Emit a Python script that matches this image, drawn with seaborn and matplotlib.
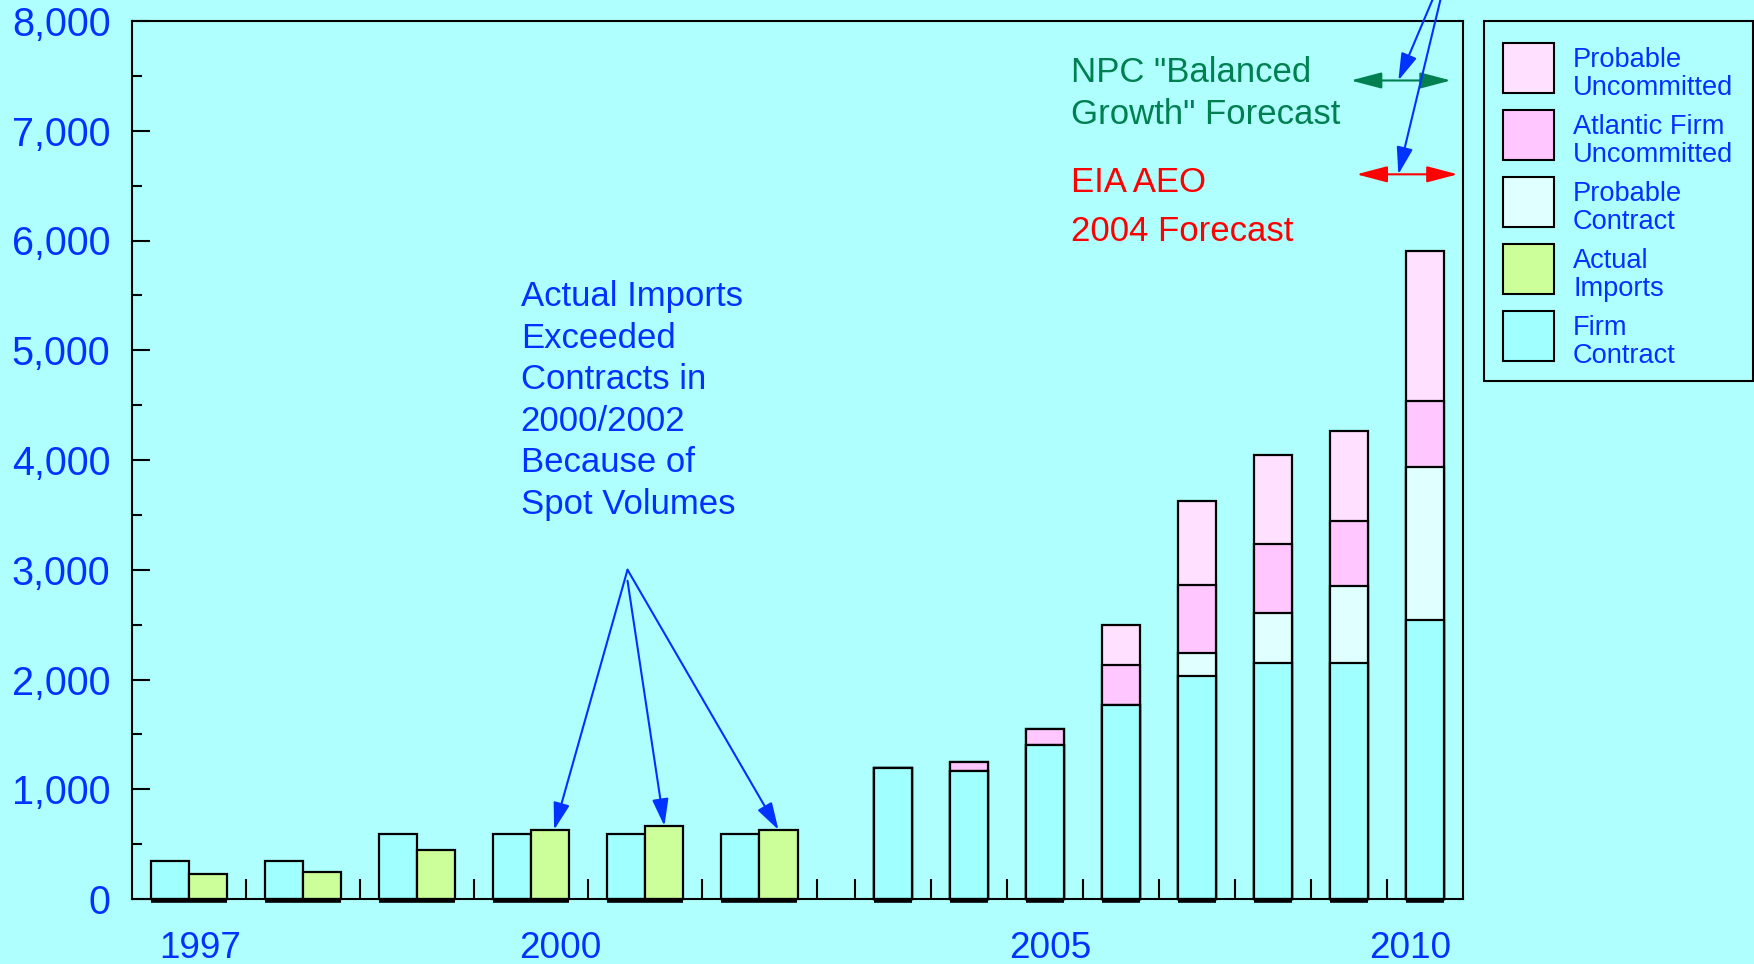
import numpy as np
import pandas as pd
import matplotlib
matplotlib.use("Agg")
import matplotlib.pyplot as plt
import matplotlib.transforms as mtransforms
from matplotlib.patches import Rectangle
from matplotlib.ticker import FixedLocator, MultipleLocator, FuncFormatter
import seaborn as sns

# ---------------- data ----------------
hist_years = [1997, 1998, 1999, 2000, 2001, 2002]
hist_firm_contract = [350, 350, 590, 590, 590, 590]
hist_actual_imports = [225, 245, 445, 630, 665, 630]

fcst_years = [2003, 2004, 2005, 2006, 2007, 2008, 2009, 2010]
fcst_firm_contract = [1190, 1170, 1400, 1770, 2030, 2150, 2150, 2540]
fcst_probable_contract = [0, 0, 0, 0, 215, 460, 700, 1400]
fcst_atlantic_firm_uncommitted = [0, 75, 150, 365, 620, 625, 595, 600]
fcst_probable_uncommitted = [0, 0, 0, 365, 765, 815, 820, 1365]

year_labels = ["1997", "2000", "2005", "2010"]

series_labels = ["Probable\nUncommitted", "Atlantic Firm\nUncommitted",
                 "Probable\nContract", "Actual\nImports", "Firm\nContract"]

# ---------------- style ----------------
BG = "#AFFFFF"
C_FIRM = "#A0FFFF"
C_PROB_CONTRACT = "#E0FFFF"
C_ATLANTIC = "#FFC6FF"
C_PROB_UNCOMMITTED = "#FFE0FF"
C_ACTUAL = "#CCFF99"
BLUE = "#0033FF"
GREEN = "#008050"
RED = "#FF0000"
series_colors = [C_PROB_UNCOMMITTED, C_ATLANTIC, C_PROB_CONTRACT, C_ACTUAL, C_FIRM]

sns.set_theme(style="ticks")
plt.rcParams["font.family"] = ["Liberation Sans", "DejaVu Sans"]
plt.rcParams["axes.linewidth"] = 1.5

W, H = 1754, 964
fig = plt.figure(figsize=(W / 100, H / 100), dpi=100, facecolor=BG)
ax = fig.add_axes([132 / W, 65 / H, (1463 - 132) / W, (899 - 21) / H])
ax.set_facecolor(BG)

# Slot layout: historical years take three slots (contract, imports, gap),
# forecast years take two slots (bar, gap).
hist_firm_pos = [3 * i + 1 for i in range(len(hist_years))]
hist_actual_pos = [3 * i + 2 for i in range(len(hist_years))]
fcst_pos = [20 + 2 * j for j in range(len(fcst_years))]

def bar_layer(pos, values, color):
    df = pd.DataFrame({"pos": np.asarray(pos, dtype=float),
                       "value": np.asarray(values, dtype=float)})
    unit = np.min(np.diff(np.unique(df["pos"])))
    sns.barplot(data=df, x="pos", y="value", orient="x", native_scale=True,
                width=1.0 / unit, color=color, saturation=1, errorbar=None,
                edgecolor="black", linewidth=1.6, clip_on=False, ax=ax)

firm = np.array(fcst_firm_contract)
cum_pc = firm + np.array(fcst_probable_contract)
cum_atl = cum_pc + np.array(fcst_atlantic_firm_uncommitted)
cum_total = cum_atl + np.array(fcst_probable_uncommitted)

# Stacked forecast bars, drawn from the tallest cumulative layer down
bar_layer(fcst_pos, cum_total, C_PROB_UNCOMMITTED)
bar_layer(fcst_pos, cum_atl, C_ATLANTIC)
bar_layer(fcst_pos, cum_pc, C_PROB_CONTRACT)
bar_layer(hist_firm_pos + fcst_pos, hist_firm_contract + list(firm), C_FIRM)
bar_layer(hist_actual_pos, hist_actual_imports, C_ACTUAL)

# heavier base line under every bar, sitting just below the axis
all_pos = np.array(sorted(hist_firm_pos + hist_actual_pos + fcst_pos), dtype=float)
base_shift = mtransforms.offset_copy(ax.transData, fig=fig, x=0, y=-1.3, units="points")
ax.hlines(np.zeros_like(all_pos), all_pos - 0.5, all_pos + 0.5, colors="black",
          linewidth=2.6, transform=base_shift, clip_on=False, zorder=4)

ax.set_xlim(0, 35)
ax.set_ylim(0, 8000)
ax.set_xlabel("")
ax.set_ylabel("")
for sp in ax.spines.values():
    sp.set_visible(True)
    sp.set_color("black")
    sp.set_linewidth(1.5)

# x ticks: tall separators between year slots, short marks under each bar
sep_ticks = [3, 6, 9, 12, 15, 18, 19] + [p + 1 for p in fcst_pos[:-1]]
ax.xaxis.set_major_locator(FixedLocator(sep_ticks))
ax.xaxis.set_minor_locator(FixedLocator(list(all_pos)))
ax.tick_params(axis="x", which="major", direction="in", length=14.4, width=1.5,
               color="black", labelbottom=False, bottom=True, top=False)
ax.tick_params(axis="x", which="minor", direction="in", length=7.2, width=1.5,
               color="black", bottom=True, top=False)

ax.yaxis.set_major_locator(MultipleLocator(1000))
ax.yaxis.set_minor_locator(MultipleLocator(500))
ax.yaxis.set_major_formatter(FuncFormatter(lambda v, p: f"{int(v):,}"))
ax.tick_params(axis="y", which="major", direction="in", length=13, width=1.5,
               color="black", labelsize=28.5, labelcolor=BLUE, pad=15.5,
               left=True, right=False)
ax.tick_params(axis="y", which="minor", direction="in", length=7.2, width=1.5,
               color="black", left=True, right=False)

# year labels under the axis
label_pos = [1.8, 11.25, 24.15, 33.6]
for lab, xp in zip(year_labels, label_pos):
    ax.annotate(lab, xy=(xp, 0), xycoords=("data", "axes fraction"),
                xytext=(0, -59), textcoords="offset pixels",
                ha="center", va="baseline", fontsize=26.6, color=BLUE,
                annotation_clip=False)

# note on the historical imports (anchored on the baseline of its last line)
ax.text(10.22, 3508, "Actual Imports\nExceeded\nContracts in\n2000/2002\nBecause of\nSpot Volumes",
        ha="left", va="baseline", fontsize=25, color=BLUE, linespacing=1.33)

arrow_kw = dict(arrowstyle="-|>,head_length=1.66,head_width=0.5", color=BLUE,
                lw=1.5, shrinkA=0, shrinkB=0, mutation_scale=10)
note_targets = [(11.1, 3000), (14.0, 2900), (17.0, 3000)]
for (tx, sy), yr_idx in zip(note_targets, [3, 4, 5]):
    ax.annotate("", xy=(tx, hist_actual_imports[yr_idx]), xytext=(13.03, sy),
                arrowprops=arrow_kw)

# forecast reference markers
ax.text(24.69, 7062, "NPC \"Balanced\nGrowth\" Forecast", ha="left", va="baseline",
        fontsize=25, color=GREEN, linespacing=1.36)
ax.text(24.69, 5995, "EIA AEO\n2004 Forecast", ha="left", va="baseline",
        fontsize=25, color=RED, linespacing=1.6)

dbl = "<|-|>,head_length=1.9,head_width=0.5"
ax.annotate("", xy=(32.05, 7458), xytext=(34.68, 7458),
            arrowprops=dict(arrowstyle=dbl, color=GREEN, lw=1.5, shrinkA=0,
                            shrinkB=0, mutation_scale=10), annotation_clip=False)
ax.annotate("", xy=(32.2, 6603), xytext=(34.86, 6603),
            arrowprops=dict(arrowstyle=dbl, color=RED, lw=1.5, shrinkA=0,
                            shrinkB=0, mutation_scale=10), annotation_clip=False)

for ty in (7458, 6603):
    ax.annotate("", xy=(33.3, ty), xycoords="data", xytext=(1451, H + 44),
                textcoords="figure pixels", arrowprops=arrow_kw,
                annotation_clip=False)

# legend box (figure pixel layout, y measured from the top edge)
def fx(px):
    return px / W

def fy(py):
    return 1 - py / H

fig.patches.append(Rectangle((fx(1484), fy(381)), fx(1753) - fx(1484), fy(21) - fy(381),
                             transform=fig.transFigure, facecolor=BG,
                             edgecolor="black", linewidth=1.5, zorder=5))
for i, (lab, col) in enumerate(zip(series_labels, series_colors)):
    top = 43 + 67 * i
    fig.patches.append(Rectangle((fx(1503), fy(top + 50)), fx(1554) - fx(1503),
                                 fy(top) - fy(top + 50), transform=fig.transFigure,
                                 facecolor=col, edgecolor="black", linewidth=1.5,
                                 zorder=6))
    for k, line in enumerate(lab.split("\n")):
        fig.text(fx(1573), fy(top + 24 + 27.6 * k), line, ha="left", va="baseline",
                 fontsize=19.6, color=BLUE, zorder=7)

fig.savefig("out.png", dpi=100, facecolor=BG)
